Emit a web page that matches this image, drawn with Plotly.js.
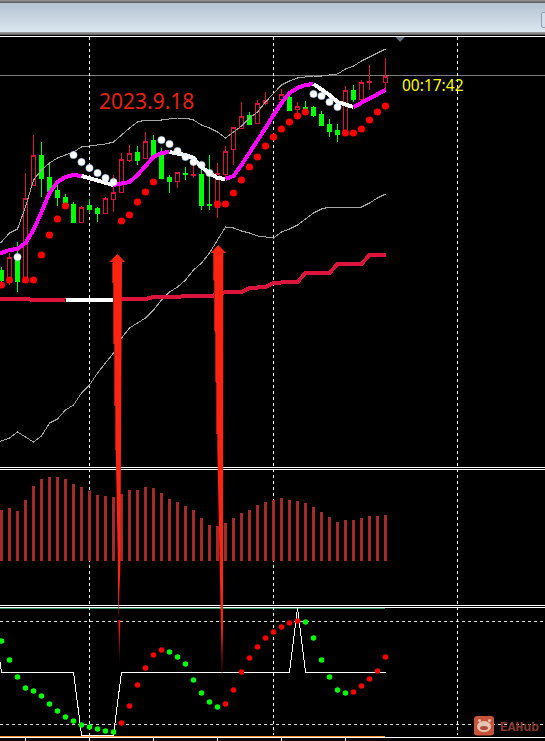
<!DOCTYPE html>
<html>
<head>
<meta charset="utf-8">
<script src="https://cdn.plot.ly/plotly-3.0.1.min.js"></script>
<style>
html,body{margin:0;padding:0;background:#000;width:545px;height:741px;overflow:hidden}
#head{position:absolute;left:0;top:0;width:545px;height:36px;background:#000}
#band{position:absolute;left:0;top:3px;width:545px;height:29px;background:linear-gradient(#b4c3d1,#dbe7f0)}
#edge0{position:absolute;left:0;top:0;width:545px;height:3px;background:linear-gradient(#9a9a9a,#555)}
#edge1{position:absolute;left:0;top:32px;width:545px;height:3px;background:linear-gradient(#a5a5a5,#5a5a5a)}
#box{position:absolute;left:541px;top:12px;width:10px;height:14px;border:1px solid #8e9db8;border-radius:2px;background:#d3dfe9}
#plot{position:absolute;left:0;top:0;width:545px;height:741px}
.scatterlayer .js-line{shape-rendering:crispEdges}
.boxlayer path,.barlayer path{shape-rendering:crispEdges}
</style>
</head>
<body>
<div id="head"><div id="edge0"></div><div id="band"></div><div id="edge1"></div><div id="box"></div></div>
<div id="plot"></div>
<script>
// bar index -> screen scale: first bar centre and bar spacing
const FIRST = 1.5, STEP = 8;

// candles (bar 0..48), values read on the reversed pane scale
const bodyTop  = [270,257,255,198,155,155,177,190,197,204,207,205,208,198,192,159,153,152,141,140,155,177,172,173,174,174,204,173,151,127,116,115,103,100,null,94,97,106,107,107,114,124,130,90,90,82,81,null,76];
const bodyBot  = [280,279,281,280,185,178,191,197,205,222,222,209,213,213,199,192,160,160,158,157,178,181,181,174,175,205,205,207,174,149,128,124,123,103,null,99,110,109,108,115,125,131,134,133,99,99,82,null,82];
const wickTop  = [267,253,242,173,135,142,162,182,194,202,206,199,207,197,175,153,145,146,132,135,148,175,172,167,163,163,155,163,146,127,102,112,100,92,null,89,92,102,101,106,111,119,124,86,85,80,65,null,58];
const wickBot  = [283,285,292,282,185,197,193,206,208,223,223,213,222,213,212,193,162,165,159,157,178,193,188,180,178,210,210,218,177,165,128,125,123,105,null,107,111,115,110,117,125,137,142,133,102,99,90,null,90];
const bullish  = [0,1,0,1,1,0,0,0,0,0,1,0,0,1,1,1,1,0,1,0,0,0,1,0,1,0,0,1,1,1,1,0,1,1,0,1,0,1,0,0,0,0,0,1,0,1,1,0,1];

// overlay lines (bar -1..48)
const hmaLine  = [254,253,250,249,243,230,212,193,182,177,175,176,178,181,183,185,184,182,175,166,157,153,152,153,155,158,167,173,178,179,176,165,153,140,128,115,103,93,88,85,84,89,95,102,104,107,103,99,95,90];
const bandUp   = [246,242,233,229,207,180,170,163,158,155,152,147,146,145,144,142,135,128,122,120,120,120,119,118,118,120,125,128,132,138,132,126,118,112,102,93,85,81,78,77,76,76,75,74,69,66,61,57,53,49];
const bandLow  = [442,441,438,432,437,442,436,423,419,410,405,393,385,373,363,353,338,328,323,318,310,300,292,287,280,270,263,253,240,227,228,231,233,236,237,238,232,229,225,219,213,209,207,207,207,207,207,203,198,194];
const slowLine = [299,299,299,299,299,299,299,299,299,300,300,300,300,300,300,300,299,299,299,299,297,297,297,297,296,296,296,296,295,292,292,292,288,287,287,283,282,282,282,273,273,273,273,264,264,264,264,255,255,255];
const stepLine = [618,672,672,672,672,672,672,672,672,672,672,735,735,735,735,735,672,672,672,672,672,672,672,672,672,672,672,672,672,672,672,672,672,672,672,672,672,672,608,672,672,672,672,672,672,672,672,672,672,672];

// dots (bar 0..48)
const sarRed   = [285,280,null,280,280,255,235,219,206,null,null,null,null,null,null,221,215,202,192,182,null,null,null,null,null,null,null,204,204,193,180,167,157,146,137,129,122,116,112,null,null,null,null,133,133,129,120,112,106];
const sarWhite = [null,null,257,null,null,null,null,null,null,155,162,168,173,178,182,null,null,null,null,null,140,144,151,157,162,165,173,null,null,null,null,null,null,null,null,null,null,null,null,94,96,102,107,null,null,null,null,null,null];

// histogram tops and its base line
const histTop  = [510,508,511,500,486,479,477,477,479,484,487,491,495,496,497,494,490,490,487,488,493,499,502,506,510,518,525,526,523,518,513,510,505,502,500,498,500,501,503,507,512,517,522,520,520,518,516,516,515];
const histBase = 561;

// oscillator dots
const oscRed   = [null,null,null,null,null,null,null,null,null,null,null,null,null,null,null,723,706,685,668,655,650,null,null,null,null,null,null,null,704,690,672,658,647,638,632,627,623,621,null,null,null,null,null,null,692,686,679,671,657];
const oscGreen = [641,660,677,688,691,696,704,711,717,721,725,727,729,731,732,null,null,null,null,null,null,652,657,664,680,693,702,707,null,null,null,null,null,null,null,null,null,null,622,638,660,677,690,693,null,null,null,null,null];

// hand-drawn arrows: bar position, pane value
const arrow1X = [14.48,15.44,15.06,14.9,14.85,14.58,14.56,14.31,13.9,13.48];
const arrow1Y = [254,262,262,450,570,620,570,460,262,262];
const tail1X  = [14.85,14.79,14.75,14.6];
const tail1Y  = [620,667,667,620];
const arrow2X = [27.1,28.06,27.73,27.68,27.68,27.44,27.31,26.98,26.48,26.15];
const arrow2Y = [245,253,253,450,630,630,570,450,253,253];
const tail2X  = [27.68,27.6,27.56,27.44];
const tail2Y  = [630,687,687,630];

const gridBars = [11,34,57];
const tickBars = [3,11,19,27,35,43];
const LAST = 48;

const bars = bullish.map((_, i) => i);
const lineBars = [-1].concat(bars);
function seg(arr, from, to){ return {x: lineBars.slice(from+1, to+2), y: arr.slice(from+1, to+2)}; }
function line(arr, from, to, color, width){
  const s = seg(arr, from, to);
  return {type:'scatter', mode:'lines', x:s.x, y:s.y, line:{color:color, width:width}, hoverinfo:'skip'};
}
function dots(arr, color, size, edge){
  return {type:'scatter', mode:'markers', x:bars, y:arr,
    marker:{color:color, size:size, line:{color:edge||color, width:edge?0.6:0}}, hoverinfo:'skip'};
}
function poly(xs, ys, color){
  return {type:'scatter', mode:'lines', x:xs.concat(xs[0]), y:ys.concat(ys[0]), fill:'toself',
    fillcolor:color, line:{width:0, color:color}, hoverinfo:'skip'};
}
function tail(xs, ys, start, stop){
  return {type:'scatter', mode:'lines', x:xs.concat(xs[0]), y:ys.concat(ys[0]), fill:'toself', line:{width:0},
    fillgradient:{type:'vertical', start:start, stop:stop, colorscale:[[0,'#f01c10'],[1,'#280000']]}, hoverinfo:'skip'};
}

const RED='#ff0000', CRIM='#dc143c', MAG='#ff00ff', WH='#ffffff', GRN='#00ff00', BAND='#a6a6a6';
const ARW='#ff2412', ARWD='#a81c10';

const traces = [
  line(bandUp, -1, LAST, BAND, 1),
  line(bandLow, -1, LAST, BAND, 1),
  line(slowLine, -1, 8, CRIM, 4),
  line(slowLine, 14, LAST, CRIM, 4),
  line(slowLine, 8, 14, WH, 4),
  {type:'candlestick', x:bars,
    open:  bars.map(i => bullish[i] ? bodyBot[i] : bodyTop[i]),
    close: bars.map(i => bullish[i] ? bodyTop[i] : bodyBot[i]),
    high: wickBot, low: wickTop,
    // the pane scale runs downward, so a rising candle has close < open
    decreasing:{line:{color:CRIM, width:1}, fillcolor:'#000000'},
    increasing:{line:{color:GRN, width:1}, fillcolor:GRN},
    whiskerwidth:0, hoverinfo:'skip'},
  line(hmaLine, -1, 10, MAG, 4),
  line(hmaLine, 10, 14, WH, 4),
  line(hmaLine, 14, 21, MAG, 4),
  line(hmaLine, 21, 28, WH, 4),
  line(hmaLine, 28, 39, MAG, 4),
  line(hmaLine, 39, 44, WH, 4),
  line(hmaLine, 44, LAST, MAG, 4),
  dots(sarRed, RED, 7.2),
  dots(sarWhite, WH, 7.2, '#bcd8ff'),
  {type:'bar', x:bars, y:histTop.map(v => v - histBase), base:histBase, width:3/STEP,
    marker:{color:'#a52a2a', line:{width:0}}, hoverinfo:'skip'},
  line(stepLine, -1, LAST, WH, 1),
  dots(oscRed, RED, 5.5),
  dots(oscGreen, GRN, 5.5),
  poly(arrow1X, arrow1Y, ARW),
  tail(tail1X, tail1Y, 625, 667),
  {type:'scatter', mode:'lines', x:[13.9,14.28], y:[263,450], line:{color:ARWD, width:1}, hoverinfo:'skip'},
  poly(arrow2X, arrow2Y, ARW),
  tail(tail2X, tail2Y, 640, 687),
  {type:'scatter', mode:'lines', x:[26.5,26.98], y:[254,450], line:{color:ARWD, width:1}, hoverinfo:'skip'}
];

const W = 545;
const px = v => v / W;
function hline(y, color, x1, dash){
  return {type:'line', layer:'below', xref:'paper', yref:'y', x0:0, x1:x1===undefined?1:px(x1), y0:y, y1:y,
    line:{color:color, width:1, dash:dash||'solid'}};
}
const dash = '3px,3px';
const shapes = [
  hline(36.5, '#ffffff'),
  hline(75.5, '#7d7d7d'),
  hline(467.5, '#ffffff'),
  hline(469.5, '#ffffff'),
  hline(605.5, '#ffffff'),
  hline(607.5, '#ffffff'),
  hline(608.5, '#2e8b57', 385),
  hline(621.5, '#d8d8d8', undefined, dash),
  hline(724.5, '#d8d8d8', undefined, dash),
  hline(736.5, '#ff9a3c', 385),
  hline(737.5, '#ffffff')
];
gridBars.forEach(b => shapes.push({type:'line', layer:'below', xref:'x', yref:'y', x0:b, x1:b, y0:37, y1:735,
  line:{color:'#ffffff', width:1, dash:dash}}));
tickBars.forEach(b => shapes.push({type:'line', layer:'below', xref:'x', yref:'y', x0:b, x1:b, y0:738, y1:741,
  line:{color:'#ffffff', width:1}}));
// marker triangle under the top edge
shapes.push({type:'path', xref:'paper', yref:'y', layer:'above',
  path:`M ${px(395.5)} 37 L ${px(405)} 37 L ${px(400)} 42 Z`, fillcolor:'#5f7186', line:{width:0}});
// watermark badge
function round(x0,y0,x1,y1,r){
  return `M ${px(x0+r)} ${y0} L ${px(x1-r)} ${y0} Q ${px(x1)} ${y0} ${px(x1)} ${y0+r} L ${px(x1)} ${y1-r} Q ${px(x1)} ${y1} ${px(x1-r)} ${y1} L ${px(x0+r)} ${y1} Q ${px(x0)} ${y1} ${px(x0)} ${y1-r} L ${px(x0)} ${y0+r} Q ${px(x0)} ${y0} ${px(x0+r)} ${y0} Z`;
}
shapes.push({type:'path', xref:'paper', yref:'y', layer:'above', path:round(474,716,494,735.5,3), fillcolor:'#c8533a', line:{width:0}});
function oval(cx,cy,rx,ry,color){
  return {type:'circle', xref:'paper', yref:'y', layer:'above', x0:px(cx-rx), x1:px(cx+rx), y0:cy-ry, y1:cy+ry, fillcolor:color, line:{width:0}};
}
shapes.push(oval(479.5,720.5,1.5,1.5,'#e6c4b4'), oval(489.5,720.5,1.5,1.5,'#e6c4b4'),
  oval(484,726.5,7,5.5,'#e6c4b4'), oval(484,728,4,2,'#b04a36'));

const layout = {
  width:545, height:741,
  margin:{l:0,r:0,t:0,b:0,pad:0},
  paper_bgcolor:'rgba(0,0,0,0)', plot_bgcolor:'rgba(0,0,0,0)',
  showlegend:false, barmode:'overlay', boxgap:0.3, boxmode:'overlay',
  xaxis:{range:[-FIRST/STEP, (W-FIRST)/STEP], visible:false, fixedrange:true, rangeslider:{visible:false}, domain:[0,1]},
  yaxis:{range:[741,0], visible:false, fixedrange:true, domain:[0,1]},
  shapes:shapes,
  annotations:[
    {text:'2023.9.18', xref:'paper', yref:'y', x:px(97), y:101, xanchor:'left', yanchor:'middle', showarrow:false,
      font:{family:'"Noto Sans", sans-serif', size:21, color:'#e8200f'}},
    {text:'00:17:42', xref:'paper', yref:'y', x:px(400), y:85, xanchor:'left', yanchor:'middle', showarrow:false,
      font:{family:'"Noto Sans", sans-serif', size:15.5, color:'#ffff00'}},
    {text:'<b>EAHub</b>', xref:'paper', yref:'y', x:px(498), y:727, xanchor:'left', yanchor:'middle', showarrow:false,
      font:{family:'"Liberation Mono", monospace', size:13, color:'#8a3a2c'}}
  ]
};
Plotly.newPlot('plot', traces, layout, {staticPlot:true, displayModeBar:false});
</script>
</body>
</html>
